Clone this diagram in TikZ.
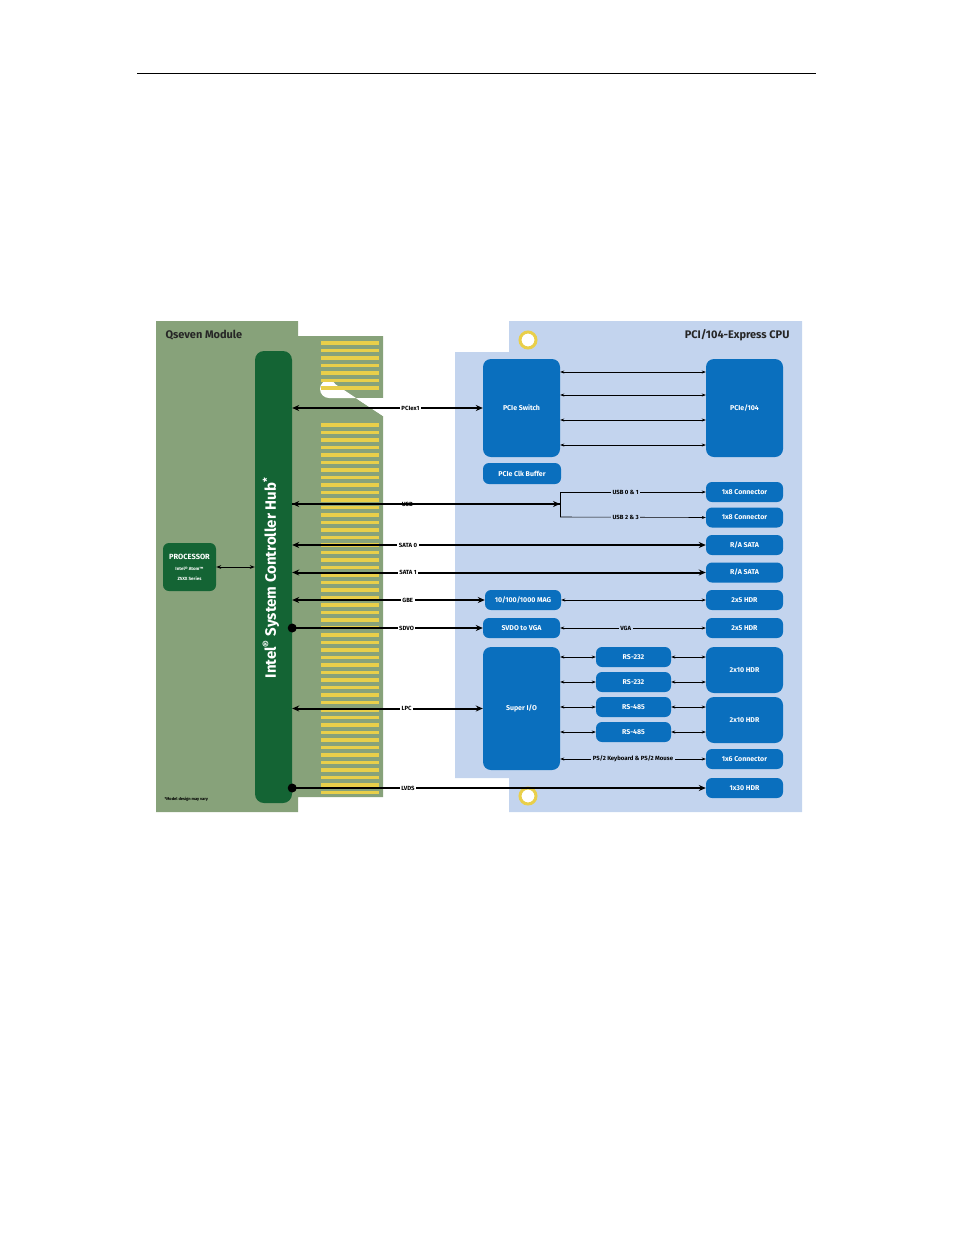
\documentclass[tikz,border=0pt]{standalone}
\usepackage{fontspec}
\setmainfont{Fira Sans}
\usetikzlibrary{arrows.meta}
\definecolor{board}{HTML}{87A27A}
\definecolor{hubg}{HTML}{146434}
\definecolor{gold}{HTML}{E9CF4A}
\definecolor{pcb}{HTML}{C3D4EE}
\definecolor{bbox}{HTML}{0A6FBE}
\tikzset{
 bx/.style={draw=none,fill=bbox,rounded corners=6pt,text=white,font=\fontsize{7}{8}\selectfont\bfseries,inner sep=0pt},
 sbx/.style={bx,rounded corners=8pt},
 thk/.style={line width=2pt,-{Stealth[length=7pt,width=6pt]}},
 thkb/.style={line width=2pt,{Stealth[length=7pt,width=6pt]}-{Stealth[length=7pt,width=6pt]}},
 thn/.style={line width=0.6pt,{Stealth[length=4pt,width=3pt]}-{Stealth[length=4pt,width=3pt]}},
 thnr/.style={line width=0.6pt,-{Stealth[length=4pt,width=3pt]}},
 lbl/.style={fill=white,inner sep=1.5pt,font=\fontsize{6}{7}\selectfont\bfseries},
 lblb/.style={fill=pcb,inner sep=1.5pt,font=\fontsize{6}{7}\selectfont\bfseries},
}
\begin{document}
\begin{tikzpicture}[x=1pt,y=-1pt]
\useasboundingbox (0,0) rectangle (954,1235);
\draw[line width=0.8pt] (137,73) -- (816,73);
% Qseven board
\fill[board] (156,321) -- (298,321) -- (298,336) -- (383,336) -- (383,398) -- (328,398) arc[start angle=-90,end angle=-270,radius=-9] -- (383,416) -- (383,797) -- (298,797) -- (298,812) -- (156,812) -- cycle;
\fill[white] (383,398) -- (329,398) arc[start angle=90,end angle=270,radius=9] -- (383,416) -- cycle;
\foreach \y in {341,348.5,...,393} \fill[gold] (321,\y) rectangle (379,\y+3.5);
\foreach \y in {423,430.5,...,795} \fill[gold] (321,\y) rectangle (379,\y+3.5);
\node[anchor=west,font=\fontsize{11}{12}\selectfont\bfseries,text=black!85] (qt) at (162,335) {Qseven Module};
\node[anchor=west,font=\fontsize{4}{5}\selectfont\bfseries] (md) at (161,799) {*Model design may vary};
\node[draw=none,fill=hubg,rounded corners=9pt,minimum width=37pt,minimum height=452pt] (hub) at (273.5,577) {};
\node[rotate=90,text=white,font=\fontsize{15}{16}\selectfont\bfseries] (hubt) at (271,578) {Intel\textsuperscript{®} System Controller Hub\textsuperscript{*}};
\node[draw=none,fill=hubg,rounded corners=6pt,minimum width=53pt,minimum height=48pt,text=white,align=center,inner sep=0pt] (cpu) at (189.5,567) {{\fontsize{7.5}{8}\selectfont\bfseries PROCESSOR}\\[-1pt]{\fontsize{4.5}{5}\selectfont\bfseries Intel® Atom™}\\[-2pt]{\fontsize{4.5}{5}\selectfont\bfseries Z5XX Series}};
\draw[line width=1pt,{Stealth[length=5pt]}-{Stealth[length=5pt]}] (cpu.east) -- (cpu.east -| hub.west);
% PCI104 board
\fill[pcb] (509,321) -- (802,321) -- (802,812) -- (509,812) -- (509,778) -- (455,778) -- (455,352) -- (509,352) -- cycle;
\foreach \y in {340,796} \draw[gold,line width=3pt,fill=white] (528,\y) circle (8);
\node[anchor=east,font=\fontsize{11}{12}\selectfont\bfseries,text=black!85] (pt) at (793,335) {PCI/104-Express CPU};
% boxes
\node[sbx,minimum width=77pt,minimum height=98pt] (sw) at (521.5,408) {PCIe Switch};
\node[sbx,minimum width=77pt,minimum height=98pt] (p104) at (744.5,408) {PCIe/104};
\node[bx,minimum width=78pt,minimum height=21pt] (clk) at (522,473.5) {PCIe Clk Buffer};
\node[bx,minimum width=77pt,minimum height=20pt] (c1) at (744.5,492) {1x8 Connector};
\node[bx,minimum width=77pt,minimum height=20pt] (c2) at (744.5,517.5) {1x8 Connector};
\node[bx,minimum width=77pt,minimum height=20pt] (sa0) at (744.5,545) {R/A SATA};
\node[bx,minimum width=77pt,minimum height=20pt] (sa1) at (744.5,572.5) {R/A SATA};
\node[bx,minimum width=77pt,minimum height=20pt] (h1) at (744.5,600) {2x5 HDR};
\node[bx,minimum width=77pt,minimum height=20pt] (h2) at (744.5,628) {2x5 HDR};
\node[bx,minimum width=76pt,minimum height=20pt] (mag) at (523,600) {10/100/1000 MAG};
\node[bx,minimum width=77pt,minimum height=20pt] (vga) at (521.5,628) {SVDO to VGA};
\node[sbx,minimum width=77pt,minimum height=123pt] (sio) at (521.5,708.5) {Super I/O};
\node[bx,minimum width=75pt,minimum height=20pt] (r1) at (633.5,657) {RS-232};
\node[bx,minimum width=75pt,minimum height=20pt] (r2) at (633.5,682) {RS-232};
\node[bx,minimum width=75pt,minimum height=20pt] (r3) at (633.5,707) {RS-485};
\node[bx,minimum width=75pt,minimum height=20pt] (r4) at (633.5,732) {RS-485};
\node[sbx,minimum width=77pt,minimum height=46pt] (x1) at (744.5,670) {2x10 HDR};
\node[sbx,minimum width=77pt,minimum height=46pt] (x2) at (744.5,720) {2x10 HDR};
\node[bx,minimum width=77pt,minimum height=20pt] (c6) at (744.5,759) {1x6 Connector};
\node[bx,minimum width=77pt,minimum height=20pt] (c30) at (744.5,788) {1x30 HDR};
% thin arrows
\foreach \y in {372,395,420,445} \draw[thn] (sw.east|-0,\y) -- (p104.west|-0,\y);
\coordinate (ub) at (560,504);
\draw[line width=0.6pt] (560,492) -- (560,517);
\draw[thnr] (560,492) -- node[lblb,pos=0.45]{USB 0 \& 1} (c1.west);
\draw[thnr] (560,517) -- node[lblb,pos=0.45]{USB 2 \& 3} (c2.west);
\draw[thn] (mag.east) -- (h1.west);
\draw[thn] (vga.east) -- node[lblb,pos=0.45]{VGA} (h2.west);
\foreach \r in {r1,r2,r3,r4} {
 \draw[thn] (sio.east|-\r.west) -- (\r.west);
 \draw[thn] (\r.east) -- (x1.west|-\r.east);
}
\draw[thn] (sio.east|-c6.west) -- node[lblb,pos=0.5]{PS/2 Keyboard \& PS/2 Mouse} (c6.west);
% thick connectors
\draw[thkb] (hub.east|-sw.west) -- node[lbl,pos=0.62]{PCIex1} (sw.west);
\draw[thk] (hub.east|-ub) -- node[lbl,pos=0.43]{USB} (ub);
\draw[{Stealth[length=7pt,width=6pt]}-,line width=2pt] (hub.east|-ub) -- (ub);
\draw[thkb] (hub.east|-sa0.west) -- node[lbl,pos=0.28]{SATA 0} (sa0.west);
\draw[thkb] (hub.east|-sa1.west) -- node[lbl,pos=0.28]{SATA 1} (sa1.west);
\draw[thkb] (hub.east|-mag.west) -- node[lbl,pos=0.6]{GBE} (mag.west);
\draw[thk] (hub.east|-vga.west) -- node[lbl,pos=0.6]{SDVO} (vga.west);
\fill (hub.east|-vga.west) circle (4.5);
\draw[thkb] (hub.east|-sio.west) -- node[lbl,pos=0.6]{LPC} (sio.west);
\draw[thk] (hub.east|-c30.west) -- node[lbl,pos=0.28]{LVDS} (c30.west);
\fill (hub.east|-c30.west) circle (4.5);
\end{tikzpicture}
\end{document}
